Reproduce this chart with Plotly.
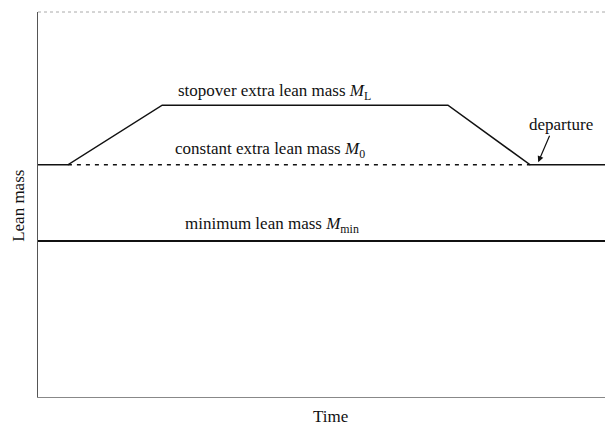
import plotly.graph_objects as go

# Data (arbitrary units)
time_stopover = [0.0, 0.52, 2.16, 7.13, 8.56, 10.14]
mass_stopover = [6.03, 6.03, 7.58, 7.58, 6.03, 6.03]
time_constant = [0.52, 8.56]
mass_constant = [6.03, 6.03]
time_min = [0.0, 10.14]
mass_min = [4.05, 4.05]
departure_time = 8.70
departure_mass = 6.10

FONT = "Liberation Serif, Times New Roman, serif"
FS = 17
INK = "#111"

fig = go.Figure()
fig.add_trace(go.Scatter(x=time_stopover, y=mass_stopover, mode="lines",
                         line=dict(color=INK, width=1.5), hoverinfo="skip"))
fig.add_trace(go.Scatter(x=time_constant, y=mass_constant, mode="lines",
                         line=dict(color=INK, width=1.5, dash="4px,5px"), hoverinfo="skip"))
fig.add_trace(go.Scatter(x=time_min, y=mass_min, mode="lines",
                         line=dict(color=INK, width=2), hoverinfo="skip"))

fig.add_annotation(x=4.12, y=7.92, text="stopover extra lean mass <i>M</i><sub>L</sub>",
                   showarrow=False, font=dict(family=FONT, size=FS, color=INK))
fig.add_annotation(x=4.03, y=6.42, text="constant extra lean mass <i>M</i><sub>0</sub>",
                   showarrow=False, font=dict(family=FONT, size=FS, color=INK))
fig.add_annotation(x=4.07, y=4.47, text="minimum lean mass <i>M</i><sub>min</sub>",
                   showarrow=False, font=dict(family=FONT, size=FS, color=INK))
fig.add_annotation(x=9.10, y=7.09, text="departure",
                   showarrow=False, font=dict(family=FONT, size=FS, color=INK))
fig.add_annotation(x=departure_time, y=departure_mass, text="",
                   showarrow=True, ax=12, ay=-28, arrowhead=2, arrowsize=1, arrowwidth=1.2,
                   arrowcolor=INK)

# axis titles as annotations (x=5 in data units -> paper fraction computed below)
X_MAX = 10.14
fig.add_annotation(xref="paper", yref="paper", x=5.08 / X_MAX, y=-0.050, yanchor="middle",
                   text="Time", showarrow=False, font=dict(family=FONT, size=FS, color=INK))
fig.add_annotation(xref="paper", yref="paper", x=-0.034, y=0.497, xanchor="center",
                   yanchor="middle", text="Lean mass", textangle=-90, showarrow=False,
                   font=dict(family=FONT, size=FS, color=INK))

# faint top border
fig.add_shape(type="line", xref="paper", yref="paper", x0=0, x1=1, y0=1, y1=1,
              line=dict(color="#aaa", width=1, dash="dot"))

# page body has an 8px margin; plot area runs off the right edge like the reference
fig.update_layout(
    width=613, height=417,
    margin=dict(l=30, r=0, t=4, b=28, autoexpand=False),
    paper_bgcolor="white", plot_bgcolor="white",
    showlegend=False,
    font=dict(family=FONT, size=FS, color=INK),
)
fig.update_xaxes(range=[0, X_MAX], showline=True, linecolor="#888", linewidth=1,
                 showticklabels=False, ticks="", showgrid=False, zeroline=False,
                 automargin=False)
fig.update_yaxes(range=[0, 10], showline=True, linecolor="#555", linewidth=1,
                 showticklabels=False, ticks="", showgrid=False, zeroline=False,
                 automargin=False)

fig.write_html("out.html")
